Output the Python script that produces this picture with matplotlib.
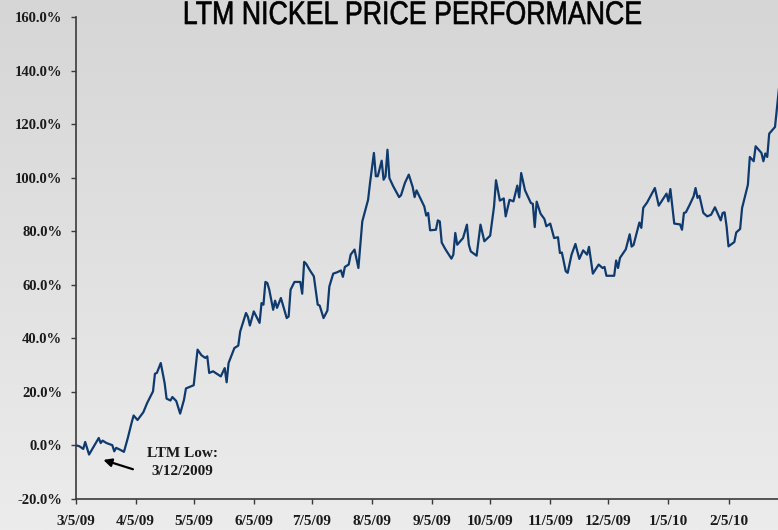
import numpy as np
import pandas as pd
import matplotlib
matplotlib.use("Agg")
import matplotlib.pyplot as plt
import matplotlib.dates as mdates
from matplotlib.ticker import FuncFormatter, MultipleLocator
from matplotlib.textpath import TextPath
from matplotlib.patches import PathPatch
from matplotlib.font_manager import FontProperties
from matplotlib.transforms import Affine2D

# days since 3/5/09 and cumulative price change (%)
days = [0, 2, 4, 5, 7, 9, 12, 13, 14, 16, 19, 20, 21, 23, 25, 27, 29, 30, 32, 35,
        37, 40, 41, 42, 44, 46, 47, 49, 50, 52, 54, 56, 57, 61, 63, 65, 67, 68, 69, 71,
        75, 77, 78, 79, 82, 84, 85, 88, 89, 90, 92, 95, 96, 97, 98, 99, 100, 102, 103, 104,
        106, 109, 110, 111, 113, 116, 117, 118, 119, 121, 123, 125, 126, 128, 130, 131, 133, 135, 137, 138,
        139, 141, 142, 144, 146, 148, 151, 152, 154, 155, 156, 158, 159, 160, 161, 162, 164, 167, 168, 170,
        172, 174, 175, 176, 180, 181, 182, 183, 186, 187, 188, 189, 191, 194, 195, 196, 197, 200, 202, 203,
        204, 207, 209, 211, 214, 216, 217, 219, 221, 222, 224, 226, 228, 229, 230, 232, 235, 236, 237, 238,
        240, 242, 243, 245, 247, 249, 250, 251, 253, 254, 256, 258, 260, 262, 264, 265, 267, 270, 272, 273,
        274, 278, 279, 280, 281, 284, 286, 287, 288, 291, 292, 293, 295, 299, 301, 305, 306, 307, 309, 312,
        313, 314, 315, 317, 319, 320, 321, 322, 324, 326, 328, 330, 333, 334, 335, 336, 337, 340, 341, 343,
        344, 347, 348, 350, 351, 354, 355, 356, 357, 358, 361, 363]
perf = [0.0, -0.4, -1.4, 1.2, -3.5, -1.0, 2.7, 0.8, 1.7, 0.8, 0.0, -2.3, -1.0, -1.7, -2.5, 2.7, 8.5, 11.1, 9.4, 12.3,
        15.8, 20.1, 26.7, 27.0, 30.7, 23.2, 17.4, 16.7, 18.0, 16.5, 11.8, 17.0, 21.2, 22.4, 35.7, 33.6, 32.6, 33.2, 27.0, 27.6,
        25.7, 28.8, 23.5, 30.7, 36.3, 37.2, 42.5, 49.4, 47.9, 44.7, 50.0, 45.7, 53.1, 52.5, 61.0, 60.6, 58.1, 50.6, 54.0, 51.3,
        55.0, 47.5, 48.1, 58.1, 61.0, 61.0, 56.6, 68.5, 67.8, 65.3, 63.1, 52.5, 52.2, 47.5, 50.3, 59.3, 64.1, 64.6, 65.3, 62.9,
        66.6, 67.5, 71.2, 73.1, 66.2, 83.6, 91.7, 98.0, 109.2, 100.5, 100.5, 106.3, 99.2, 100.5, 110.4, 99.8, 96.7, 92.7, 93.4, 98.0,
        101.1, 96.5, 92.7, 95.2, 89.2, 85.8, 86.8, 80.3, 80.5, 84.0, 83.6, 75.7, 73.1, 69.7, 71.2, 79.3, 74.9, 77.4, 82.4, 74.9,
        72.4, 70.8, 82.4, 76.2, 78.3, 89.2, 99.0, 91.4, 92.2, 85.5, 91.7, 91.1, 97.0, 92.6, 101.7, 95.2, 90.5, 90.2, 81.5, 91.0,
        86.5, 84.5, 81.8, 82.8, 77.4, 77.7, 71.8, 72.0, 65.0, 64.4, 71.2, 75.2, 69.6, 72.8, 71.2, 74.1, 64.1, 67.5, 66.2, 66.6,
        63.3, 63.3, 69.0, 66.2, 70.0, 73.2, 78.8, 74.2, 74.8, 83.2, 81.2, 88.7, 90.7, 96.1, 89.5, 94.0, 91.1, 95.7, 82.8, 82.5,
        80.5, 86.8, 87.0, 89.9, 93.0, 96.1, 92.4, 93.2, 86.8, 85.5, 86.1, 88.9, 84.0, 86.8, 87.0, 81.8, 74.3, 75.9, 79.5, 80.8,
        88.6, 97.3, 107.7, 106.1, 111.7, 109.2, 106.1, 109.0, 107.7, 116.4, 118.9, 133.0]

start = pd.Timestamp("2009-03-05")
dates = [start + pd.Timedelta(days=d) for d in days]
tick_dates = pd.date_range("2009-03-01", "2010-02-01", freq="MS") + pd.Timedelta(days=4)

title = "LTM NICKEL PRICE PERFORMANCE"
line_color = "#0f3a6e"
serif = ["Liberation Serif", "DejaVu Serif"]

fig = plt.figure(figsize=(7.78, 5.30), dpi=100)

# grey vertical gradient behind everything
bg = fig.add_axes([0, 0, 1, 1], zorder=0)
grad = np.linspace(0, 1, 256).reshape(-1, 1)
bg.imshow(grad, aspect="auto", cmap=matplotlib.colors.LinearSegmentedColormap.from_list(
    "g", ["#d6d6d6", "#ececec"]), extent=[0, 1, 0, 1], origin="upper")
bg.axis("off")

ax = fig.add_axes([75.5 / 778, (530 - 498.7) / 530, 1 - 75.5 / 778, (498.7 - 17) / 530], zorder=1)
ax.patch.set_alpha(0)

ax.plot(dates, perf, color=line_color, lw=1.6)

ax.set_ylim(-20, 160)
ax.yaxis.set_major_locator(MultipleLocator(20))
ax.yaxis.set_major_formatter(FuncFormatter(lambda v, p: f"{v:.1f}%"))
ax.set_xlim(start, start + pd.Timedelta(days=(778 - 75.5) / 1.9377))
ax.set_xticks(tick_dates)
ax.xaxis.set_major_formatter(FuncFormatter(
    lambda v, p: (lambda d: f"{d.month}/{d.day}/{d.strftime('%y')}")(mdates.num2date(v))))

for s in ["top", "right"]:
    ax.spines[s].set_visible(False)
for s in ["left", "bottom"]:
    ax.spines[s].set_color("#3a3a3a")
    ax.spines[s].set_linewidth(1.2)
ax.tick_params(axis="both", direction="out", length=3.5, width=1, color="#3a3a3a")
ax.tick_params(axis="y", pad=6)
ax.tick_params(axis="x", pad=8)
for lab in ax.get_yticklabels():
    lab.set_fontfamily(serif)
    lab.set_fontweight("bold")
    lab.set_fontsize(10.5)
    lab.set_color("#1a1a1a")
for lab in ax.get_xticklabels():
    lab.set_fontfamily(serif)
    lab.set_fontweight("bold")
    lab.set_fontsize(11)
    lab.set_color("#1a1a1a")

# LTM low annotation
ax.annotate("", xy=(start + pd.Timedelta(days=13), -5.2),
            xytext=(start + pd.Timedelta(days=31), -9.3),
            arrowprops=dict(arrowstyle="-|>", color="black", lw=1.6, mutation_scale=12))
ax.text(start + pd.Timedelta(days=55), -6.5, "LTM Low:\n3/12/2009", ha="center", va="center",
        fontfamily=serif, fontweight="bold", fontsize=11, linespacing=1.5, color="#1a1a1a")

# condensed title: squeeze a regular sans text path horizontally
tp = TextPath((0, 0), title, size=23.5, prop=FontProperties(family="Liberation Sans"))
ext = tp.get_extents()
width_in = 4.56
sx = width_in * 72 / ext.width
x0 = 4.13 - width_in / 2 - ext.x0 * sx / 72
y0 = (530 - 24) / 100
tr = Affine2D().scale(sx / 72, 1 / 72).translate(x0, y0) + fig.dpi_scale_trans
fig.patches.append(PathPatch(tp, transform=tr, facecolor="black", edgecolor="black",
                             lw=0.45, zorder=2))

fig.savefig("out.png", dpi=100)
